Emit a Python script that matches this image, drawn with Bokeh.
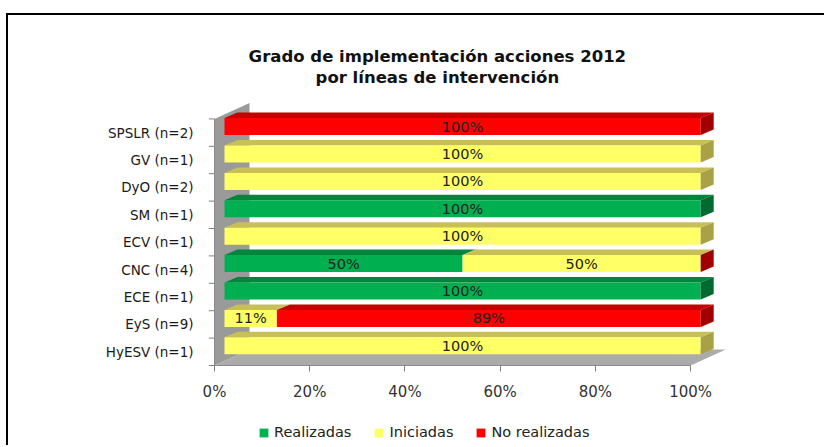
from bokeh.plotting import figure
from bokeh.models import (Range1d, FixedTicker, Legend, LegendItem, LinearAxis)
from bokeh.embed import file_html
from bokeh.resources import INLINE
from bokeh.core.properties import value

# ---------------- data ----------------
categories = ["SPSLR (n=2)", "GV (n=1)", "DyO (n=2)", "SM (n=1)", "ECV (n=1)",
              "CNC (n=4)", "ECE (n=1)", "EyS (n=9)", "HyESV (n=1)"]
series_names = ["Realizadas", "Iniciadas", "No realizadas"]
realizadas = [None, None, None, 100, None, 50, 100, None, None]
iniciadas = [None, 100, 100, None, 100, 50, None, 11, 100]
no_realizadas = [100, None, None, None, None, 0, None, 89, None]
x_ticks = [0, 20, 40, 60, 80, 100]
title_lines = ["Grado de implementación acciones 2012", "por líneas de intervención"]

series_values = [realizadas, iniciadas, no_realizadas]

# ---------------- styles / geometry ----------------
FONT = "DejaVu Sans"
front_colors = ["#00b050", "#ffff66", "#ff0000"]
top_colors = ["#00853d", "#c8c054", "#c40000"]
side_colors = ["#006a30", "#a8a244", "#a00000"]
wall_color = "#9a9a9a"
floor_color = "#ababab"

W, H = 818, 432                     # canvas (page offset 8, 15 via css margin+border)
ML, MR = 190, 98
PX = 520 / 109.2                    # pixels per percent
PY = 27.4                           # pixels per row
X0 = -16 / PX
X1 = X0 + (W - ML - MR) / PX
TICK_X0 = -1.2
ZERO_Y = 350                        # canvas y of the floor front edge
Y1 = ZERO_Y / PY
Y0 = -(H - ZERO_Y) / PY

OX, OY = 10 / PX, 6 / PY            # bar front offset (depth)
BH = 17 / PY                        # bar front height
DX, DY = 13 / PX, 5.5 / PY          # bar depth
WX, WY = 35 / PX, 16 / PY           # wall/floor depth
TITLE_CX = 46.8                     # title centre (in % units)
TITLE_Y = [(ZERO_Y - 41) / PY, (ZERO_Y - 62) / PY]

n = len(categories)

p = figure(width=W, height=H, output_backend="svg", toolbar_location=None,
           x_range=Range1d(X0, X1), y_range=Range1d(Y0, Y1),
           min_border_left=ML, min_border_right=MR, min_border_top=0,
           min_border_bottom=0, outline_line_color=None,
           background_fill_color="white", border_fill_color="white")
p.styles = {"border-top": "2px solid black", "border-left": "2px solid black",
            "margin-top": "13px", "margin-left": "6px"}
p.xgrid.visible = False
p.ygrid.visible = False
p.yaxis.visible = False
p.xaxis.visible = False

xax = LinearAxis(ticker=FixedTicker(ticks=x_ticks), fixed_location=0,
                 major_label_overrides={t: f"{t}%" for t in x_ticks})
xax.axis_line_color = None
xax.major_tick_line_color = "#808080"
xax.major_tick_out = 6
xax.major_tick_in = 0
xax.minor_tick_line_color = None
xax.major_label_standoff = 11
xax.major_label_text_font = FONT
xax.major_label_text_font_size = "15px"
xax.major_label_text_color = "#333333"
p.add_layout(xax, "below")

yax = LinearAxis(ticker=FixedTicker(ticks=[n - 1 - k + 0.5 for k in range(n)]),
                 major_label_overrides={n - 1 - k + 0.5: c for k, c in enumerate(categories)})
yax.axis_line_color = None
yax.major_tick_line_color = None
yax.major_tick_out = 0
yax.major_tick_in = 0
yax.minor_tick_line_color = None
yax.major_label_standoff = 5
yax.major_label_text_font = FONT
yax.major_label_text_font_size = "13.5px"
yax.major_label_text_color = "#1a1a1a"
p.add_layout(yax, "left")

# ---------------- title ----------------
p.text(x=[TITLE_CX, TITLE_CX], y=TITLE_Y, text=title_lines, text_align="center",
       text_baseline="middle", text_font=value(FONT), text_font_size="16.5px",
       text_font_style="bold", text_color="#111111")

# ---------------- 3D walls ----------------
p.patch([0, 0, WX, WX], [0, n, n + WY, WY], fill_color=wall_color, line_color=None)
p.patch([0, 100, 100 + WX, WX], [0, 0, WY, WY], fill_color=floor_color, line_color=None)
p.segment(x0=[0], y0=[0], x1=[0], y1=[n], line_color="#8a8a8a", line_width=1)
p.segment(x0=[0], y0=[0], x1=[100], y1=[0], line_color="#8a8a8a", line_width=1)
p.segment(x0=[TICK_X0] * (n + 1), y0=list(range(n + 1)), x1=[0] * (n + 1),
          y1=list(range(n + 1)), line_color="#808080", line_width=1)

# ---------------- bars ----------------
cum = [0.0] * n
last_series = [None] * n
front_renderers = []
lab_x, lab_y, lab_t = [], [], []
for s, vals in enumerate(series_values):
    ys, lefts, rights = [], [], []
    txs, tys = [], []
    for k, v in enumerate(vals):
        if v is None:
            continue
        i = n - 1 - k
        yc = i + 0.5 + OY
        a = cum[k] + OX
        b = cum[k] + v + OX
        ys.append(yc); lefts.append(a); rights.append(b)
        top = yc + BH / 2
        txs.append([a, b, b + DX, a + DX])
        tys.append([top, top, top + DY, top + DY])
        if v > 0:
            lab_x.append((a + b) / 2); lab_y.append(yc); lab_t.append(f"{v:g}%")
        cum[k] += v
        last_series[k] = s
    p.patches(txs, tys, fill_color=top_colors[s], line_color=None)
    r = p.hbar(y=ys, left=lefts, right=rights, height=BH,
               fill_color=front_colors[s], line_color=None)
    front_renderers.append(r)

sxs, sys_, scol = [], [], []
for k in range(n):
    i = n - 1 - k
    yc = i + 0.5 + OY
    e = cum[k] + OX
    sxs.append([e, e + DX, e + DX, e])
    sys_.append([yc - BH / 2, yc - BH / 2 + DY, yc + BH / 2 + DY, yc + BH / 2])
    scol.append(side_colors[last_series[k]])
p.patches(sxs, sys_, fill_color=scol, line_color=None)

p.text(x=lab_x, y=lab_y, text=lab_t, text_align="center", text_baseline="middle",
       text_font=value(FONT), text_font_size="14.5px", text_color="#222222")

# ---------------- legend ----------------
legend = Legend(items=[LegendItem(label=nm, renderers=[r])
                       for nm, r in zip(series_names, front_renderers)],
                orientation="horizontal", location=(60, 7),
                glyph_width=11, glyph_height=11, label_standoff=5, spacing=22,
                padding=3, margin=0, border_line_color=None,
                background_fill_alpha=0, label_text_font=FONT,
                label_text_font_size="14.5px", label_text_color="#222222")
p.add_layout(legend, "center")

open("out.html", "w").write(file_html(p, INLINE))
